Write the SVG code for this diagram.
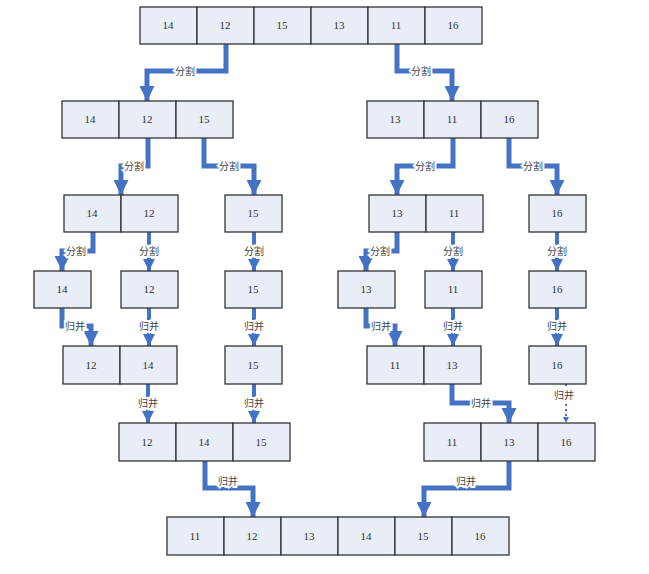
<svg xmlns="http://www.w3.org/2000/svg" width="649" height="574" viewBox="0 0 649 574">
<style>
.c rect{fill:#e8edf6;stroke:#333;stroke-width:1.3}
.c text{font-family:"Liberation Serif",serif;font-size:11px;fill:#333;text-anchor:middle}
.k path{fill:none;stroke:#4472c4;stroke-width:5;marker-end:url(#a)}
.k path.s{stroke-width:4}
.k path.t{stroke-width:2;stroke-dasharray:2 3}
.l{font-family:"Noto Sans CJK SC","Liberation Serif",serif;font-size:10px;fill:#444;text-anchor:middle;stroke:#fff;stroke-width:4;paint-order:stroke}
</style>
<defs><marker id="a" viewBox="0 0 10 10" refX="10" refY="5" markerWidth="3" markerHeight="3" orient="auto"><path d="M0,0L10,5L0,10z" fill="#4472c4"/></marker></defs>
<rect width="649" height="574" fill="#fff"/>
<g id="connectors" class="k">
<path d="M226,44V71H147V101"/><path d="M397,44V71H452V101"/>
<path d="M148,138V166H121V195"/><path d="M204,138V166H254V195"/>
<path d="M453,138V166H397V195"/><path d="M509,138V166H557V195"/>
<path d="M93,232V251H62V271"/><path class="s" d="M149,232V271"/><path class="s" d="M254,232V271"/>
<path d="M397,232V251H366V271"/><path class="s" d="M453,232V271"/><path class="s" d="M557,232V271"/>
<path d="M62,308V326H91V346"/><path class="s" d="M149,308V346"/><path class="s" d="M254,308V346"/>
<path d="M366,308V326H395V346"/><path class="s" d="M453,308V346"/><path class="s" d="M557,308V346"/>
<path class="s" d="M148,384V423"/><path class="s" d="M254,384V423"/>
<path d="M452,384V403H509V423"/><path class="t" d="M566,384V423"/>
<path d="M205,461V488H253V517"/><path d="M509,461V488H424V517"/>
</g>
<g id="labels">
<text class="l" x="185" y="75">分割</text><text class="l" x="421" y="75">分割</text>
<text class="l" x="134" y="170">分割</text><text class="l" x="229" y="170">分割</text>
<text class="l" x="425" y="170">分割</text><text class="l" x="533" y="170">分割</text>
<text class="l" x="76" y="255">分割</text><text class="l" x="149" y="255">分割</text><text class="l" x="254" y="255">分割</text>
<text class="l" x="380" y="255">分割</text><text class="l" x="453" y="255">分割</text><text class="l" x="557" y="255">分割</text>
<text class="l" x="75" y="330">归并</text><text class="l" x="149" y="330">归并</text><text class="l" x="254" y="330">归并</text>
<text class="l" x="381" y="330">归并</text><text class="l" x="453" y="330">归并</text><text class="l" x="557" y="330">归并</text>
<text class="l" x="148" y="407">归并</text><text class="l" x="254" y="407">归并</text>
<text class="l" x="481" y="407">归并</text><text class="l" x="564" y="399">归并</text>
<text class="l" x="228" y="485">归并</text><text class="l" x="466" y="485">归并</text>
</g>
<g id="r1" class="c"><rect x="140" y="7" width="57" height="37"/><rect x="197" y="7" width="57" height="37"/><rect x="254" y="7" width="57" height="37"/><rect x="311" y="7" width="57" height="37"/><rect x="368" y="7" width="57" height="37"/><rect x="425" y="7" width="57" height="37"/>
<text x="168" y="29">14</text><text x="225" y="29">12</text><text x="282" y="29">15</text><text x="339" y="29">13</text><text x="396" y="29">11</text><text x="453" y="29">16</text></g>
<g id="r2l" class="c"><rect x="62" y="101" width="57" height="37"/><rect x="119" y="101" width="57" height="37"/><rect x="176" y="101" width="57" height="37"/>
<text x="90" y="123">14</text><text x="147" y="123">12</text><text x="204" y="123">15</text></g>
<g id="r2r" class="c"><rect x="367" y="101" width="57" height="37"/><rect x="424" y="101" width="57" height="37"/><rect x="481" y="101" width="57" height="37"/>
<text x="395" y="123">13</text><text x="452" y="123">11</text><text x="509" y="123">16</text></g>
<g id="r3a" class="c"><rect x="64" y="195" width="57" height="37"/><rect x="121" y="195" width="57" height="37"/><text x="92" y="217">14</text><text x="149" y="217">12</text></g>
<g id="r3b" class="c"><rect x="225" y="195" width="57" height="37"/><text x="253" y="217">15</text></g>
<g id="r3c" class="c"><rect x="369" y="195" width="57" height="37"/><rect x="426" y="195" width="57" height="37"/><text x="397" y="217">13</text><text x="454" y="217">11</text></g>
<g id="r3d" class="c"><rect x="529" y="195" width="57" height="37"/><text x="557" y="217">16</text></g>
<g id="r4a" class="c"><rect x="34" y="271" width="57" height="37"/><text x="62" y="293">14</text></g>
<g id="r4b" class="c"><rect x="121" y="271" width="57" height="37"/><text x="149" y="293">12</text></g>
<g id="r4c" class="c"><rect x="225" y="271" width="57" height="37"/><text x="253" y="293">15</text></g>
<g id="r4d" class="c"><rect x="338" y="271" width="57" height="37"/><text x="366" y="293">13</text></g>
<g id="r4e" class="c"><rect x="425" y="271" width="57" height="37"/><text x="453" y="293">11</text></g>
<g id="r4f" class="c"><rect x="529" y="271" width="57" height="37"/><text x="557" y="293">16</text></g>
<g id="r5a" class="c"><rect x="63" y="346" width="57" height="38"/><rect x="120" y="346" width="57" height="38"/><text x="91" y="369">12</text><text x="148" y="369">14</text></g>
<g id="r5b" class="c"><rect x="225" y="346" width="57" height="38"/><text x="253" y="369">15</text></g>
<g id="r5c" class="c"><rect x="367" y="346" width="57" height="38"/><rect x="424" y="346" width="57" height="38"/><text x="395" y="369">11</text><text x="452" y="369">13</text></g>
<g id="r5d" class="c"><rect x="529" y="346" width="57" height="38"/><text x="557" y="369">16</text></g>
<g id="r6l" class="c"><rect x="119" y="423" width="57" height="38"/><rect x="176" y="423" width="57" height="38"/><rect x="233" y="423" width="57" height="38"/>
<text x="147" y="446">12</text><text x="204" y="446">14</text><text x="261" y="446">15</text></g>
<g id="r6r" class="c"><rect x="424" y="423" width="57" height="38"/><rect x="481" y="423" width="57" height="38"/><rect x="538" y="423" width="57" height="38"/>
<text x="452" y="446">11</text><text x="509" y="446">13</text><text x="566" y="446">16</text></g>
<g id="r7" class="c"><rect x="167" y="517" width="57" height="38"/><rect x="224" y="517" width="57" height="38"/><rect x="281" y="517" width="57" height="38"/><rect x="338" y="517" width="57" height="38"/><rect x="395" y="517" width="57" height="38"/><rect x="452" y="517" width="57" height="38"/>
<text x="195" y="540">11</text><text x="252" y="540">12</text><text x="309" y="540">13</text><text x="366" y="540">14</text><text x="423" y="540">15</text><text x="480" y="540">16</text></g>
</svg>
